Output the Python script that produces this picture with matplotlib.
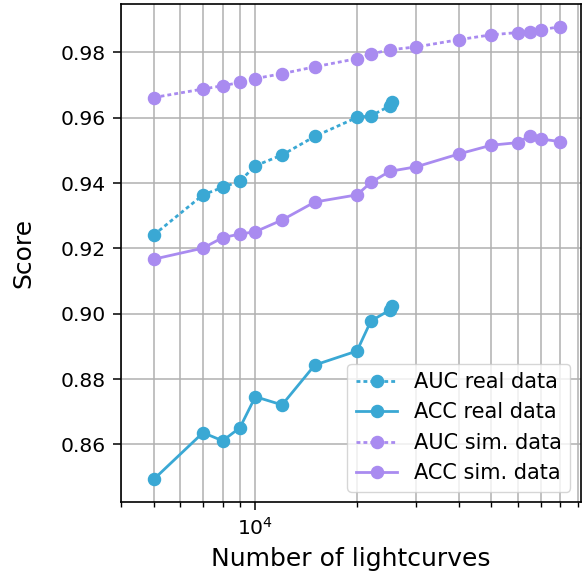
import matplotlib
matplotlib.use("Agg")
import matplotlib.pyplot as plt

# Real data
real_n = [5000, 7000, 8000, 9000, 10000, 12000, 15000, 20000, 22000, 25000, 25400]
auc_real = [0.9241, 0.9364, 0.9387, 0.9406, 0.9453, 0.9486, 0.9543, 0.9601, 0.9606, 0.9636, 0.9649]
acc_real = [0.8493, 0.8636, 0.8611, 0.8651, 0.8746, 0.8721, 0.8843, 0.8886, 0.8978, 0.9011, 0.9023]

# Simulated data
sim_n = [5000, 7000, 8000, 9000, 10000, 12000, 15000, 20000, 22000, 25000, 30000,
         40000, 50000, 60000, 65000, 70000, 80000]
auc_sim = [0.9662, 0.9688, 0.9698, 0.9708, 0.9720, 0.9735, 0.9756, 0.9781, 0.9795,
           0.9808, 0.9817, 0.9839, 0.9854, 0.9861, 0.9864, 0.9869, 0.9879]
acc_sim = [0.9167, 0.9201, 0.9233, 0.9244, 0.9251, 0.9287, 0.9342, 0.9364, 0.9402,
           0.9436, 0.9450, 0.9489, 0.9516, 0.9524, 0.9545, 0.9535, 0.9527]

blue = "#3aa8d4"
purple = "#a98bf0"

fig = plt.figure(figsize=(5.85, 5.79), dpi=100)
ax = fig.add_axes([0.2068, 0.1330, 0.7859, 0.8601])

kw = dict(marker="o", markersize=8.7, linewidth=2)
dots = (0, (1.4, 1.1))
ax.plot(real_n, auc_real, linestyle=dots, color=blue, label="AUC real data", **kw)
ax.plot(real_n, acc_real, linestyle="-", color=blue, label="ACC real data", **kw)
ax.plot(sim_n, auc_sim, linestyle=dots, color=purple, label="AUC sim. data", **kw)
ax.plot(sim_n, acc_sim, linestyle="-", color=purple, label="ACC sim. data", **kw)

ax.set_xscale("log")
ax.set_xlim(4000, 92000)
ax.grid(True, which="both", axis="x", color="#b0b0b0", linewidth=1.1)
ax.grid(True, which="major", axis="y", color="#b0b0b0", linewidth=1.1)
ax.set_axisbelow(True)

ax.tick_params(axis="both", which="major", labelsize=14.6, length=5.8, width=1.1, pad=5)
ax.tick_params(axis="x", which="minor", length=3.5, width=1.0)
ax.set_xlabel("Number of lightcurves", fontsize=18, labelpad=6)
ax.set_ylabel("Score", fontsize=18, labelpad=18)
for s in ax.spines.values():
    s.set_linewidth(1.2)

ax.legend(loc="lower right", fontsize=15)

fig.savefig("out.png", dpi=100)
